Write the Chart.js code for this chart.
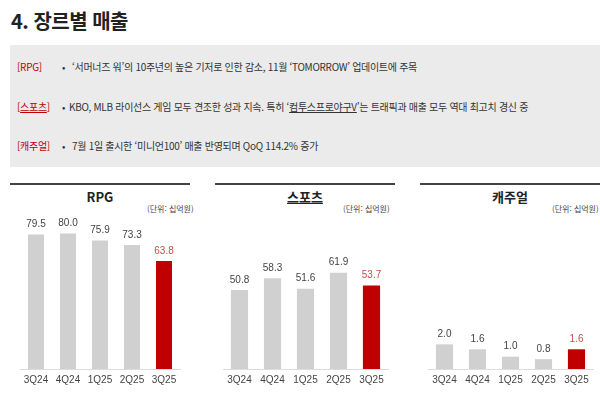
<!DOCTYPE html>
<html lang="ko">
<head>
<meta charset="utf-8">
<title>4. 장르별 매출</title>
<script src="https://cdn.jsdelivr.net/npm/chart.js@4.4.0/dist/chart.umd.min.js"></script>
<style>
    html, body { margin: 0; padding: 0; background: #fff; }
    body { width: 600px; height: 395px; position: relative; overflow: hidden;
        font-family: "Liberation Sans", "Noto Sans CJK KR", sans-serif; color: #333; }
    .title { position: absolute; left: 11px; top: 6px; font-size: 20px; font-weight: bold; color: #222;
        font-family: "Noto Sans CJK KR", sans-serif; line-height: 30px; letter-spacing: -0.5px; }
    .box { position: absolute; left: 10px; top: 45px; width: 590px; height: 122px; background: #ebebeb; }
    .row { position: absolute; left: 7px; font-size: 10px; line-height: 14px; white-space: nowrap;
        font-family: "Noto Sans CJK KR", sans-serif; letter-spacing: -0.3px; }
    .tag { color: #c00000; position: absolute; left: 0; }
    .bul { position: absolute; left: 45px; }
    .txt { position: absolute; left: 55px; }
    .u { text-decoration: underline; }
    .panel { position: absolute; top: 183px; width: 180px; height: 2px; background: #444; }
    .ptitle { position: absolute; top: 188px; width: 180px; text-align: center; font-size: 13px;
        font-weight: bold; color: #222; font-family: "Noto Sans CJK KR", sans-serif; line-height: 18px; }
    .unit { position: absolute; top: 203px; font-size: 8px; color: #444; line-height: 12px;
        font-family: "Noto Sans CJK KR", sans-serif; }
    canvas { position: absolute; top: 215px; }
</style>
</head>
<body>
<div class="title">4. 장르별 매출</div>
<div class="box">
    <div class="row" style="top: 15px;"><span class="tag">[RPG]</span><span class="bul">•</span><span class="txt">‘서머너즈 워’의 10주년의 높은 기저로 인한 감소, 11월 ‘TOMORROW’ 업데이트에 주목</span></div>
    <div class="row" style="top: 55px;"><span class="tag">[<span class="u">스포츠</span>]</span><span class="bul">•</span><span class="txt" style="left: 52px;">KBO, MLB 라이선스 게임 모두 견조한 성과 지속. 특히 ‘<span class="u">컴투스프로야구V</span>’는 트래픽과 매출 모두 역대 최고치 경신 중</span></div>
    <div class="row" style="top: 94px;"><span class="tag">[캐주얼]</span><span class="bul">•</span><span class="txt">7월 1일 출시한 ‘미니언100’ 매출 반영되며 QoQ 114.2% 증가</span></div>
</div>

<div class="panel" style="left: 10px;"></div>
<div class="panel" style="left: 215px;"></div>
<div class="panel" style="left: 420px;"></div>
<div class="ptitle" style="left: 10px;">RPG</div>
<div class="ptitle" style="left: 215px;"><span class="u">스포츠</span></div>
<div class="ptitle" style="left: 420px;">캐주얼</div>
<div class="unit" style="left: 147px;">(단위: 십억원)</div>
<div class="unit" style="left: 343px;">(단위: 십억원)</div>
<div class="unit" style="left: 552px;">(단위: 십억원)</div>

<canvas id="rpg" width="180" height="180" style="left: 10px;"></canvas>
<canvas id="sports" width="180" height="180" style="left: 215px;"></canvas>
<canvas id="casual" width="180" height="180" style="left: 420px;"></canvas>

<script>
    'use strict';

    // 분기 (x축)
    var quarters = ['3Q24', '4Q24', '1Q25', '2Q25', '3Q25'];

    // 장르별 매출 (단위: 십억원)
    var rpgSales = [79.5, 80.0, 75.9, 73.3, 63.8];
    var sportsSales = [50.8, 58.3, 51.6, 61.9, 53.7];
    var casualSales = [2.0, 1.6, 1.0, 0.8, 1.6];

    var GRAY = '#d0d0d0';
    var RED = '#c00000';
    var LABEL_RED = '#c0504d';

    // 막대 위 값 표시
    var valueLabels = {
        id: 'valueLabels',
        afterDatasetsDraw: function (chart) {
            var ctx = chart.ctx;
            var meta = chart.getDatasetMeta(0);
            var data = chart.data.datasets[0].data;
            ctx.save();
            ctx.font = '10px "Liberation Sans", sans-serif';
            ctx.textAlign = 'center';
            ctx.textBaseline = 'middle';
            meta.data.forEach(function (bar, i) {
                ctx.fillStyle = i === data.length - 1 ? LABEL_RED : '#444';
                ctx.fillText(data[i].toFixed(1), bar.x, bar.y - 10);
            });
            ctx.restore();
        }
    };

    function makeChart(id, values, yMax, pad, barPct) {
        return new Chart(document.getElementById(id), {
            type: 'bar',
            data: {
                labels: quarters,
                datasets: [{
                    data: values,
                    backgroundColor: values.map(function (v, i) {
                        return i === values.length - 1 ? RED : GRAY;
                    }),
                    barPercentage: barPct,
                    categoryPercentage: 1
                }]
            },
            options: {
                responsive: false,
                animation: false,
                devicePixelRatio: 1,
                layout: { padding: { left: pad[0], right: pad[1], top: 0, bottom: 4 } },
                plugins: {
                    legend: { display: false },
                    tooltip: { enabled: false }
                },
                scales: {
                    x: {
                        grid: { display: false, drawTicks: false },
                        border: { display: true, color: '#dcdcdc', width: 1 },
                        ticks: {
                            color: '#444',
                            padding: 5,
                            maxRotation: 0,
                            minRotation: 0,
                            autoSkip: false,
                            font: { family: '"Liberation Sans", sans-serif', size: 10 }
                        }
                    },
                    y: {
                        display: false,
                        min: 0,
                        max: yMax
                    }
                }
            },
            plugins: [valueLabels]
        });
    }

    makeChart('rpg', rpgSales, 91, [10, 10], 0.5);
    makeChart('sports', sportsSales, 99, [8, 7], 0.52);
    makeChart('casual', casualSales, 12.5, [8, 7], 0.52);
</script>
</body>
</html>
